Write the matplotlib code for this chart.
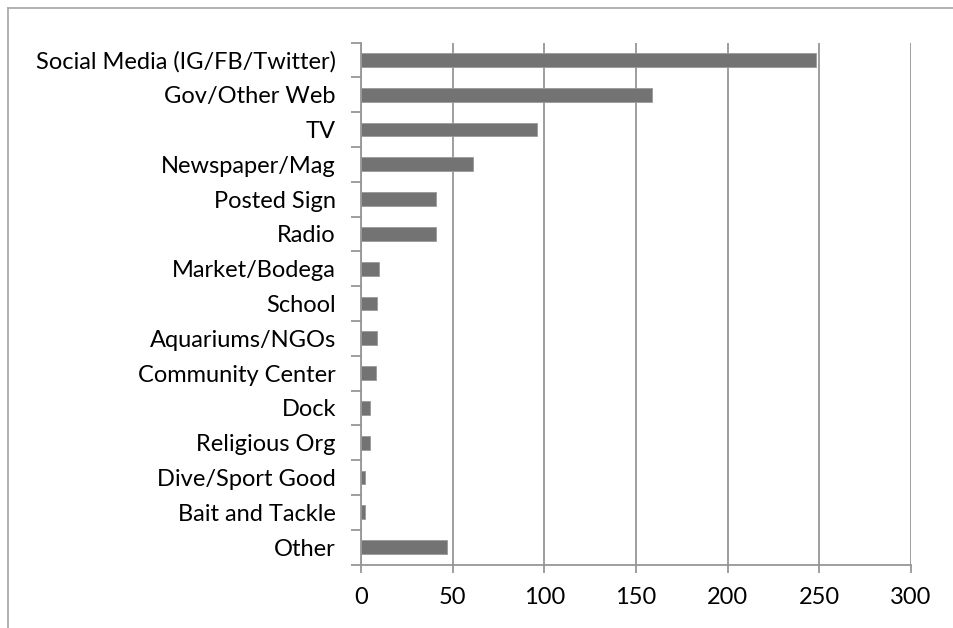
import matplotlib.pyplot as plt
from matplotlib.lines import Line2D
import numpy as np

plt.rcParams['font.family'] = ['Lato', 'DejaVu Sans']

sources = ['Social Media (IG/FB/Twitter)', 'Gov/Other Web', 'TV', 'Newspaper/Mag',
           'Posted Sign', 'Radio', 'Market/Bodega', 'School', 'Aquariums/NGOs',
           'Community Center', 'Dock', 'Religious Org', 'Dive/Sport Good',
           'Bait and Tackle', 'Other']
counts = [248, 159, 96, 61, 41, 41, 10, 9, 9, 8, 5, 5, 2, 2, 47]
xticks = [0, 50, 100, 150, 200, 250, 300]

grey = '#969696'

fig = plt.figure(figsize=(9.54, 6.28), dpi=100)
ax = fig.add_axes([0.3784, 0.1011, 0.5765, 0.8312])

y = np.arange(len(sources))
ax.barh(y, counts, height=0.4, color='#737373', edgecolor='#9a9a9a', linewidth=0.6, zorder=3)
ax.set_ylim(len(sources) - 0.5, -0.5)
ax.set_xlim(0, 300)

ax.set_xticks(xticks)
ax.set_xticklabels([str(t) for t in xticks], fontsize=17)
ax.set_yticks(y)
ax.set_yticklabels(sources, fontsize=17)
# ticks sit between categories, labels at the centres
ax.set_yticks(np.arange(len(sources) + 1) - 0.5, minor=True)
ax.tick_params(axis='y', which='major', length=0, pad=18)
ax.tick_params(axis='y', which='minor', length=7, width=1.3, color=grey)
ax.tick_params(axis='x', length=6, width=1.3, color=grey, pad=10)

ax.grid(axis='x', color=grey, linewidth=1.3, zorder=0)
for side in ['top', 'right']:
    ax.spines[side].set_visible(False)
for side in ['left', 'bottom']:
    ax.spines[side].set_color(grey)
    ax.spines[side].set_linewidth(1.3)

# outer chart frame
fig.add_artist(Line2D([0.0084, 1.0], [0.9865, 0.9865], color='#a6a6a6', linewidth=1.2))
fig.add_artist(Line2D([0.0084, 0.0084], [0.0, 0.9865], color='#a6a6a6', linewidth=1.2))

fig.savefig('out.png', dpi=100)
